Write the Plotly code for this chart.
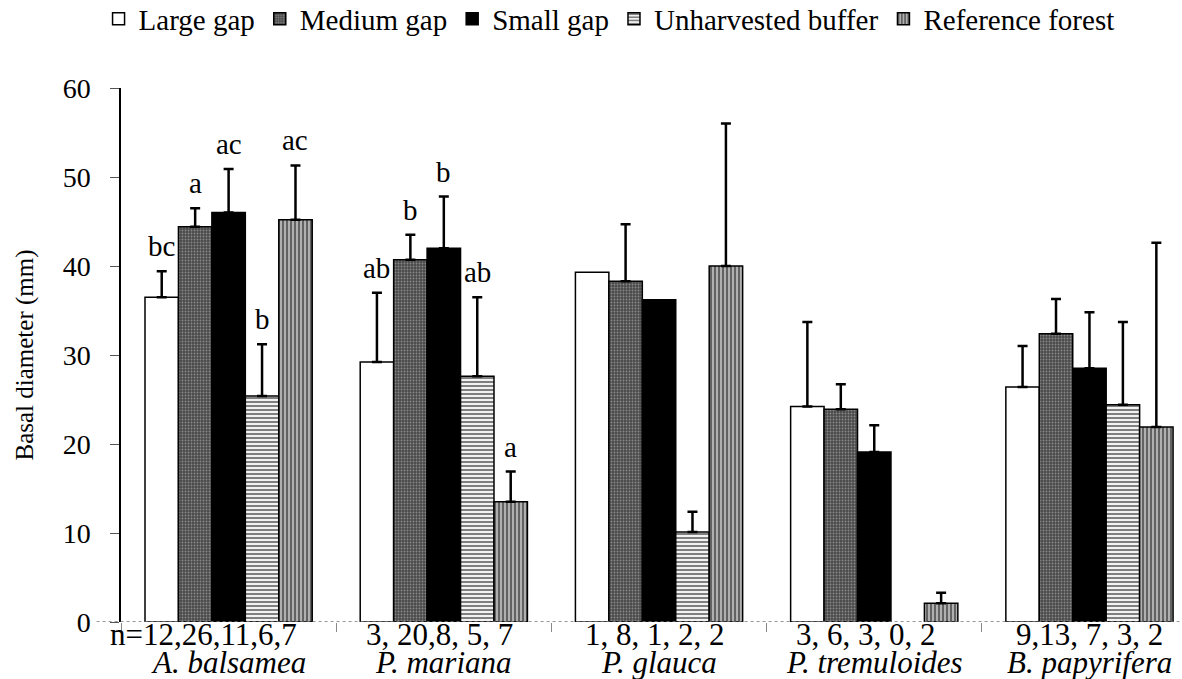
import plotly.graph_objects as go

# Species groups and sample sizes per treatment
species = ["A. balsamea", "P. mariana", "P. glauca", "P. tremuloides", "B. papyrifera"]
n_counts = ["n=12,26,11,6,7", "3, 20,8, 5, 7", "1, 8, 1, 2, 2", "3, 6, 3, 0, 2", "9,13, 7, 3, 2"]

treatments = ["Large gap", "Medium gap", "Small gap", "Unharvested buffer", "Reference forest"]

# Mean basal diameter (mm) per treatment, one value per species
large_gap = [36.5, 29.2, 39.3, 24.2, 26.4]
medium_gap = [44.4, 40.7, 38.3, 23.9, 32.4]
small_gap = [46.0, 42.0, 36.2, 19.1, 28.5]
unharvested = [25.4, 27.6, 10.1, None, 24.4]
reference = [45.2, 13.5, 40.0, 2.1, 21.9]

# Standard errors (upper whisker only; None where no error is shown)
large_gap_se = [2.9, 7.8, None, 9.5, 4.6]
medium_gap_se = [2.1, 2.8, 6.4, 2.8, 3.9]
small_gap_se = [4.9, 5.8, None, 3.0, 6.3]
unharvested_se = [5.8, 8.9, 2.3, None, 9.3]
reference_se = [6.1, 3.4, 16.0, 1.2, 20.7]

# Significance letters above bars
large_gap_sig = ["bc", "ab", "", "", ""]
medium_gap_sig = ["a", "b", "", "", ""]
small_gap_sig = ["ac", "b", "", "", ""]
unharvested_sig = ["b", "ab", "", "", ""]
reference_sig = ["ac", "a", "", "", ""]

means = [large_gap, medium_gap, small_gap, unharvested, reference]
errors = [large_gap_se, medium_gap_se, small_gap_se, unharvested_se, reference_se]
letters = [large_gap_sig, medium_gap_sig, small_gap_sig, unharvested_sig, reference_sig]

FONT = "'Liberation Serif', 'DejaVu Serif', 'Times New Roman', serif"
BARGAP = 0.223

patterns = [
    dict(color="white", pattern=dict(shape="")),
    dict(color="#555555", pattern=dict(shape=".", fgcolor="#c8c8c8", bgcolor="#4a4a4a", size=3, solidity=0.3)),
    dict(color="black", pattern=dict(shape="")),
    dict(color="white", pattern=dict(shape="-", fgcolor="black", bgcolor="white", size=4, solidity=0.55)),
    dict(color="#bbbbbb", pattern=dict(shape="|", fgcolor="black", bgcolor="#c4c4c4", size=4, solidity=0.6)),
]

fig = go.Figure()
for name, vals, errs, style in zip(treatments, means, errors, patterns):
    # "NaN" entries make plotly.js skip the whisker (and its cap) for that bar
    upper = [e if e is not None else "NaN" for e in errs]
    lower = [0 if e is not None else "NaN" for e in errs]
    fig.add_trace(go.Bar(
        name=name,
        x=species,
        y=vals,
        marker=dict(color=style["color"], pattern=style["pattern"],
                    line=dict(color="black", width=1.5)),
        error_y=dict(type="data", array=upper, arrayminus=lower, symmetric=False,
                     visible=True, color="black", thickness=2.5, width=5),
    ))

# Letters placed just above each whisker
group_w = 1 - BARGAP
bar_w = group_w / len(treatments)
annotations = []
for i, (vals, errs, labs) in enumerate(zip(means, errors, letters)):
    off = -group_w / 2 + bar_w * (i + 0.5)
    for j, lab in enumerate(labs):
        if not lab:
            continue
        top = vals[j] + (errs[j] or 0)
        annotations.append(dict(x=j + off, y=top, xref="x", yref="y", text=lab,
                                showarrow=False, yanchor="bottom", yshift=7,
                                font=dict(family=FONT, size=29, color="black")))

# Two-line category labels: sample sizes and italic species names
label_xshift = [-25, -4, -4, -8, 0]
for j, (n, sp) in enumerate(zip(n_counts, species)):
    annotations.append(dict(x=j, y=0, xref="x", yref="y", text=n, showarrow=False,
                            yanchor="middle", yshift=-12, xshift=label_xshift[j],
                            font=dict(family=FONT, size=31, color="black")))
    annotations.append(dict(x=j, y=0, xref="x", yref="y", text=f"<i>{sp}</i>", showarrow=False,
                            yanchor="middle", yshift=-40,
                            font=dict(family=FONT, size=31, color="black")))

fig.update_layout(
    width=1182, height=679,
    margin=dict(l=121, r=0, t=88, b=57),
    paper_bgcolor="white", plot_bgcolor="white",
    barmode="group", bargap=BARGAP, bargroupgap=0,
    font=dict(family=FONT, size=28, color="black"),
    legend=dict(orientation="h", x=0.46, xanchor="center", y=0.972, yref="container",
                yanchor="middle", font=dict(family=FONT, size=29), itemwidth=30,
                bgcolor="rgba(0,0,0,0)"),
    annotations=annotations,
    shapes=[dict(type="line", xref="paper", yref="y", x0=-0.023, x1=1, y0=0, y1=0,
                 line=dict(color="#777777", width=1.5, dash="dot"))],
)

fig.update_xaxes(type="category", range=[-0.5, 4.43], showline=False, showgrid=False,
                 zeroline=False, tickson="boundaries", ticks="outside", ticklen=9,
                 tickcolor="#888888", showticklabels=False)
fig.update_yaxes(range=[0, 60], dtick=10, showline=True, linecolor="black", linewidth=1.5,
                 showgrid=False, zeroline=False, ticks="outside", ticklen=9, tickcolor="#555555",
                 ticklabelstandoff=14, tickfont=dict(family=FONT, size=28),
                 title=dict(text="Basal diameter (mm)", font=dict(family=FONT, size=25), standoff=22),
                 automargin=False)

fig.write_html("out.html")
